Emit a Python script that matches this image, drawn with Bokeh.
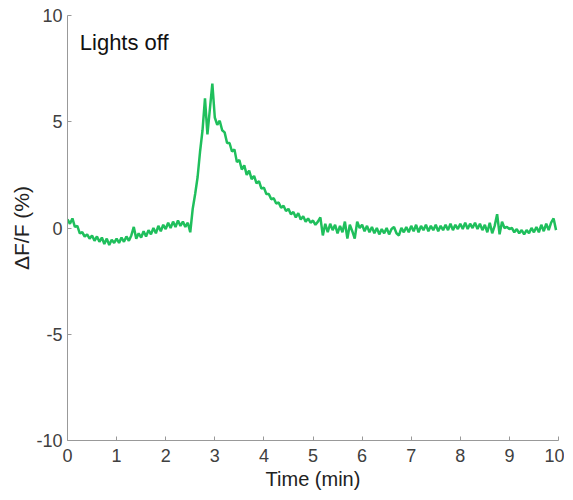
import numpy as np
from bokeh.plotting import figure
from bokeh.models import Range1d, Label, FixedTicker
from bokeh.embed import file_html
from bokeh.resources import INLINE

# sampling step (min) of the hand-read trace
step_min = 0.05

# ΔF/F (%), one value per 0.05 min starting at 0
dff = [
    # 0.00 - 0.95
    0.4, 0.2, 0.45, 0.05, 0.1, -0.25, -0.2, -0.4, -0.3, -0.5,
    -0.35, -0.6, -0.4, -0.65, -0.45, -0.75, -0.5, -0.8, -0.55, -0.7,
    # 1.00 - 1.95
    -0.5, -0.7, -0.45, -0.65, -0.4, -0.6, -0.35, 0.05, -0.5, -0.25,
    -0.45, -0.15, -0.4, -0.1, -0.3, 0.0, -0.25, 0.1, -0.15, 0.15,
    # 2.00 - 2.95
    -0.05, 0.25, 0.0, 0.3, 0.05, 0.35, 0.1, 0.3, 0.05, 0.25,
    -0.2, 0.9, 1.6, 2.4, 3.6, 4.6, 6.1, 4.4, 5.6, 6.8,
    # 3.00 - 3.95
    5.2, 4.85, 5.05, 4.6, 4.5, 4.0, 4.0, 3.6, 3.7, 3.1,
    3.2, 2.75, 2.95, 2.5, 2.7, 2.3, 2.45, 2.1, 2.2, 1.85,
    # 4.00 - 4.95
    1.9, 1.6, 1.6, 1.35, 1.4, 1.15, 1.2, 0.95, 1.05, 0.8,
    0.9, 0.65, 0.75, 0.5, 0.7, 0.4, 0.55, 0.3, 0.45, 0.25,
    # 5.00 - 5.95
    0.35, 0.15, 0.3, 0.5, -0.35, 0.2, -0.2, 0.2, -0.1, 0.15,
    -0.25, 0.1, -0.2, 0.3, -0.5, 0.15, -0.15, -0.5, 0.3, 0.0,
    # 6.00 - 6.95
    0.15, -0.15, 0.1, -0.2, 0.05, -0.25, 0.0, -0.3, -0.05, -0.25,
    0.0, -0.3, -0.05, 0.05, -0.25, -0.35, 0.0, -0.2, 0.05, -0.2,
    # 7.00 - 7.95
    0.1, -0.15, 0.15, -0.2, 0.1, -0.1, 0.15, -0.15, 0.1, -0.1,
    0.15, -0.15, 0.1, -0.1, 0.15, -0.1, 0.2, -0.1, 0.15, -0.05,
    # 8.00 - 8.95
    0.2, -0.05, 0.25, -0.05, 0.2, 0.0, 0.25, -0.05, 0.2, -0.1,
    0.15, -0.2, 0.25, -0.25, 0.1, 0.65, -0.3, 0.3, 0.0, 0.05,
    # 9.00 - 9.95
    -0.05, 0.0, -0.2, -0.05, -0.25, -0.1, -0.3, -0.1, -0.25, 0.0,
    -0.2, 0.05, -0.2, 0.15, -0.15, 0.2, -0.1, 0.25, 0.45, -0.1,
]
time_min = [i * step_min for i in range(len(dff))]

x_ticks = [0, 1, 2, 3, 4, 5, 6, 7, 8, 9, 10]
y_ticks = [-10, -5, 0, 5, 10]
y_tick_labels = {-10: "-10", -5: "-5", 0: "0", 5: "5", 10: "10"}

p = figure(
    output_backend="svg", toolbar_location=None,
    frame_width=491, frame_height=425,
    min_border_left=67, min_border_top=15, min_border_right=6, min_border_bottom=55,
    x_range=Range1d(0, 10), y_range=Range1d(-10, 10),
)
p.background_fill_color = "white"
p.border_fill_color = "white"
p.outline_line_color = None
p.grid.visible = False

p.line(time_min, dff, line_color="#1fbf5c", line_width=2.5)

font = "Liberation Sans"
for ax in (p.xaxis[0], p.yaxis[0]):
    ax.axis_line_color = "#999999"
    ax.major_tick_line_color = "#999999"
    ax.major_tick_in = 4
    ax.major_tick_out = 0
    ax.minor_tick_line_color = None
    ax.major_label_text_font = font
    ax.major_label_text_font_size = "18px"
    ax.major_label_text_color = "#404040"
    ax.axis_label_text_font = font
    ax.axis_label_text_font_style = "normal"
    ax.axis_label_text_color = "#222222"

p.xaxis[0].axis_label_text_font_size = "20px"
p.yaxis[0].axis_label_text_font_size = "21px"
p.xaxis[0].ticker = FixedTicker(ticks=x_ticks)
p.yaxis[0].ticker = FixedTicker(ticks=y_ticks)
p.yaxis[0].major_label_overrides = y_tick_labels
p.xaxis[0].axis_label = "Time (min)"
p.yaxis[0].axis_label = "ΔF/F (%)"
p.xaxis[0].major_label_standoff = 8
p.yaxis[0].major_label_standoff = 5
p.xaxis[0].axis_label_standoff = 3
p.yaxis[0].axis_label_standoff = 0

p.add_layout(Label(x=0.25, y=8.75, text="Lights off", text_font=font,
                   text_font_size="22px", text_color="#111111",
                   text_baseline="middle"))

open("out.html", "w").write(file_html(p, INLINE))
